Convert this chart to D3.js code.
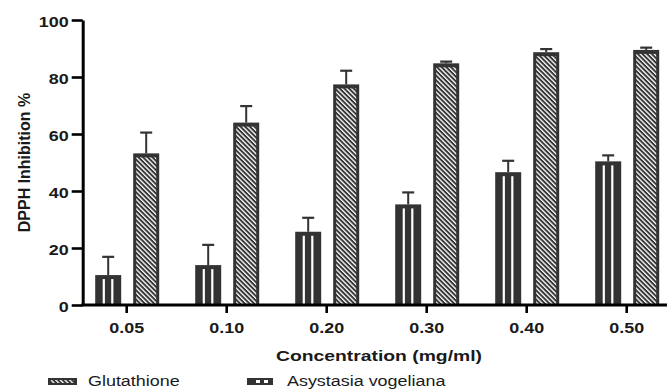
<!doctype html>
<html lang="en">
<head>
<meta charset="utf-8" />
<title>DPPH Inhibition</title>
<script src="https://cdn.jsdelivr.net/npm/d3@7"></script>
<style>
  body { margin: 0; background: #fff; }
  svg { display: block; }
  text { font-family: "Liberation Sans", Arial, sans-serif; fill: #1a1a1a; }
</style>
</head>
<body>
<script>
  // data
  var concentrations = ["0.05", "0.10", "0.20", "0.30", "0.40", "0.50"];
  var seriesNames = ["Asystasia vogeliana", "Glutathione"];
  var asystasiaMean = [10.5, 14.0, 25.7, 35.3, 46.6, 50.4];
  var asystasiaErr = [6.4, 7.1, 4.9, 4.2, 4.0, 2.1];
  var glutathioneMean = [53.2, 64.0, 77.4, 84.8, 88.7, 89.5];
  var glutathioneErr = [7.3, 5.8, 4.8, 0.6, 1.1, 0.8];
  var yTicks = [0, 20, 40, 60, 80, 100];
  var legendOrder = ["Glutathione", "Asystasia vogeliana"];

  var w = 667, h = 389;
  var dark = "#333333";
  var stretch = 1.28; // labels in the picture are drawn a bit wide

  var svg = d3.select("body").append("svg").attr("width", w).attr("height", h);

  var defs = svg.append("defs");
  var hatch = defs.append("pattern")
    .attr("id", "hatch")
    .attr("patternUnits", "userSpaceOnUse")
    .attr("width", 3.3).attr("height", 10)
    .attr("patternTransform", "rotate(-45)");
  hatch.append("rect").attr("width", 3.3).attr("height", 10).attr("fill", dark);
  hatch.append("rect").attr("width", 1.35).attr("height", 10).attr("fill", "#ffffff");

  var x0 = d3.scaleBand().domain(concentrations).range([76.7, 676.7]);
  var x1 = d3.scaleBand().domain(seriesNames).range([-32, 32]).paddingInner(0.316);
  var y = d3.scaleLinear().domain([0, 100]).range([305, 20]);

  var rows = concentrations.map(function(c, i) {
    return [
      { cat: c, s: seriesNames[0], mean: asystasiaMean[i], err: asystasiaErr[i] },
      { cat: c, s: seriesNames[1], mean: glutathioneMean[i], err: glutathioneErr[i] }
    ];
  });

  var groups = svg.selectAll("g.grp")
    .data(rows)
    .enter().append("g")
    .attr("class", "grp")
    .attr("transform", function(d) { return "translate(" + (x0(d[0].cat) + x0.bandwidth() / 2 + 0.5) + ",0)"; });

  var bars = groups.selectAll("g.bar")
    .data(function(d) { return d; })
    .enter().append("g")
    .attr("class", "bar");

  // error bars (upper only)
  bars.append("line")
    .attr("x1", function(d) { return x1(d.s) + x1.bandwidth() / 2; })
    .attr("x2", function(d) { return x1(d.s) + x1.bandwidth() / 2; })
    .attr("y1", function(d) { return y(d.mean); })
    .attr("y2", function(d) { return y(d.mean + d.err); })
    .attr("stroke", dark).attr("stroke-width", 2);
  bars.append("line")
    .attr("x1", function(d) { return x1(d.s) + x1.bandwidth() / 2 - 6; })
    .attr("x2", function(d) { return x1(d.s) + x1.bandwidth() / 2 + 6; })
    .attr("y1", function(d) { return y(d.mean + d.err); })
    .attr("y2", function(d) { return y(d.mean + d.err); })
    .attr("stroke", dark).attr("stroke-width", 2.2);

  // bar body
  bars.append("rect")
    .attr("x", function(d) { return x1(d.s); })
    .attr("y", function(d) { return y(d.mean); })
    .attr("width", x1.bandwidth())
    .attr("height", function(d) { return y(0) - y(d.mean); })
    .attr("fill", dark);

  // glutathione: diagonal hatch inside border
  bars.filter(function(d) { return d.s === "Glutathione"; })
    .append("rect")
    .attr("x", function(d) { return x1(d.s) + 3; })
    .attr("y", function(d) { return y(d.mean) + 4; })
    .attr("width", x1.bandwidth() - 6)
    .attr("height", function(d) { return Math.max(0, y(0) - y(d.mean) - 4); })
    .attr("fill", "url(#hatch)");

  // asystasia: two white vertical stripes
  var stripeOffsets = [7.5, 16.0];
  bars.filter(function(d) { return d.s === "Asystasia vogeliana"; })
    .selectAll("rect.stripe")
    .data(function(d) { return stripeOffsets.map(function(o) { return { d: d, o: o }; }); })
    .enter().append("rect")
    .attr("class", "stripe")
    .attr("x", function(e) { return x1(e.d.s) + e.o; })
    .attr("y", function(e) { return y(e.d.mean) + 4; })
    .attr("width", 2.2)
    .attr("height", function(e) { return Math.max(0, y(0) - y(e.d.mean) - 4); })
    .attr("fill", "#ffffff");

  // y axis
  var yAxis = svg.append("g")
    .attr("transform", "translate(82.7,0)")
    .call(d3.axisLeft(y).tickValues(yTicks).tickSize(11).tickSizeOuter(0).tickPadding(3));
  yAxis.select(".domain").attr("stroke", "#000").attr("stroke-width", 3);
  yAxis.selectAll(".tick line").attr("stroke", "#000").attr("stroke-width", 2.6);
  yAxis.selectAll(".tick text")
    .attr("dy", "0.46em")
    .style("font-size", "14px").style("font-weight", "bold").style("font-family", "'Liberation Sans', Arial, sans-serif")
    .attr("fill", "#1a1a1a");

  // x axis
  var xAxis = svg.append("g")
    .attr("transform", "translate(0," + y(0) + ")")
    .call(d3.axisBottom(x0).tickSize(8).tickSizeOuter(0).tickPadding(10));
  xAxis.select(".domain").remove();
  xAxis.selectAll(".tick line").attr("stroke", "#000").attr("stroke-width", 2.6);
  xAxis.selectAll(".tick text")
    .attr("dy", "0.71em")
    .style("font-size", "14px").style("font-weight", "bold").style("font-family", "'Liberation Sans', Arial, sans-serif")
    .attr("fill", "#1a1a1a");
  svg.append("line")
    .attr("x1", 81.2).attr("x2", 667)
    .attr("y1", y(0)).attr("y2", y(0))
    .attr("stroke", "#000").attr("stroke-width", 3);

  // axis titles
  svg.append("text")
    .attr("x", 379).attr("y", 361)
    .attr("text-anchor", "middle")
    .style("font-size", "14.5px").style("font-weight", "bold")
    .attr("textLength", 206).attr("lengthAdjust", "spacingAndGlyphs")
    .text("Concentration (mg/ml)");

  svg.append("text")
    .attr("transform", "translate(30," + ((y(0) + y(100)) / 2) + ") rotate(-90)")
    .attr("text-anchor", "middle")
    .style("font-size", "16px").style("font-weight", "bold")
    .text("DPPH Inhibition %");

  // legend
  var legX = d3.scaleOrdinal().domain(legendOrder).range([48, 247]);
  var leg = svg.selectAll("g.leg")
    .data(legendOrder)
    .enter().append("g")
    .attr("class", "leg")
    .attr("transform", function(d) { return "translate(" + legX(d) + ",378)"; });
  leg.append("rect")
    .attr("width", function(d) { return d === "Glutathione" ? 29 : 26; })
    .attr("height", 7)
    .attr("fill", dark);
  leg.filter(function(d) { return d === "Glutathione"; })
    .append("rect")
    .attr("x", 3).attr("y", 2).attr("width", 23).attr("height", 3)
    .attr("fill", "url(#hatch)");
  leg.filter(function(d) { return d !== "Glutathione"; })
    .selectAll("rect.dot")
    .data([9, 17])
    .enter().append("rect")
    .attr("class", "dot")
    .attr("x", function(o) { return o; }).attr("y", 2)
    .attr("width", 4).attr("height", 3)
    .attr("fill", "#ffffff");
  leg.append("text")
    .attr("x", 40)
    .attr("y", 8)
    .style("font-size", "14px")
    .attr("class", "wide")
    .text(function(d) { return d; });

  // stretch horizontal labels to the width they have in the picture
  svg.selectAll(".tick text, text.wide").each(function() {
    var len = this.getComputedTextLength();
    d3.select(this).attr("textLength", len * stretch).attr("lengthAdjust", "spacingAndGlyphs");
  });
</script>
</body>
</html>
